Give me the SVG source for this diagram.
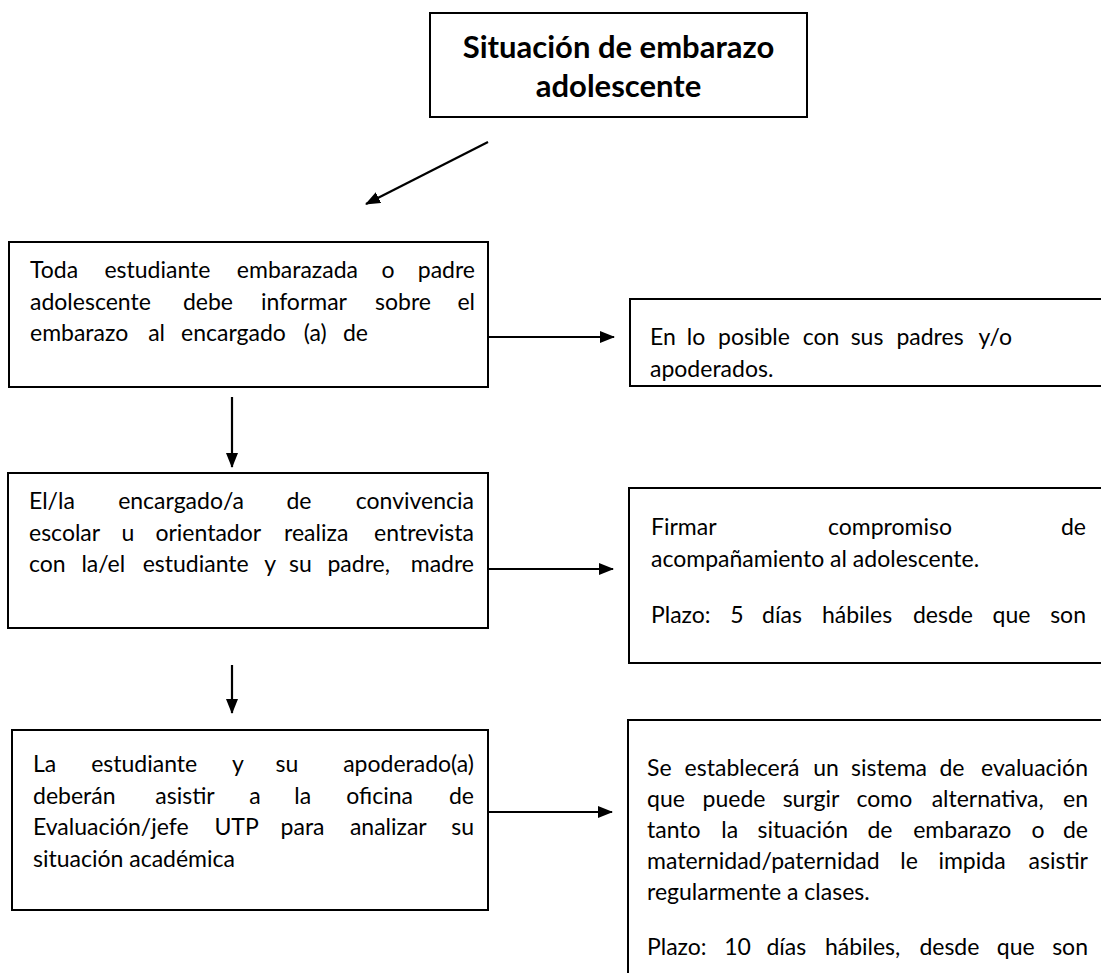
<svg xmlns="http://www.w3.org/2000/svg" width="1101" height="973" viewBox="0 0 1101 973">
<style>
.box{fill:#fff;stroke:#000;stroke-width:2}
text{font-family:Lato,"Liberation Sans",sans-serif;font-size:23px;fill:#000}
.b{font-weight:bold;font-size:31px}
.m{text-anchor:middle}
.e{text-anchor:end}
.c{stroke:#000;stroke-width:2.2;fill:none}
</style>
<defs>
<marker id="ah" markerUnits="userSpaceOnUse" markerWidth="16" markerHeight="12" refX="14" refY="6" orient="auto">
<path d="M0,0 L15,6 L0,12 z" fill="#000"/>
</marker>
</defs>
<rect width="1101" height="973" fill="#fff"/>

<g id="connectors">
<line class="c" x1="488" y1="142" x2="366" y2="204" marker-end="url(#ah)"/>
<line class="c" x1="488" y1="337" x2="614" y2="337" marker-end="url(#ah)"/>
<line class="c" x1="232" y1="397" x2="232" y2="467" marker-end="url(#ah)"/>
<line class="c" x1="488" y1="569" x2="613" y2="569" marker-end="url(#ah)"/>
<line class="c" x1="232" y1="665" x2="232" y2="713" marker-end="url(#ah)"/>
<line class="c" x1="488" y1="812" x2="612" y2="812" marker-end="url(#ah)"/>
</g>

<g id="n1">
<rect class="box" x="430" y="13" width="377" height="104"/>
<text class="b m" x="618.5" y="58">Situación de embarazo</text>
<text class="b m" x="618.5" y="97">adolescente</text>
</g>

<g id="n2">
<rect class="box" x="9" y="242" width="479" height="145"/>
<text x="30" y="278">Toda</text><text class="m" x="157.4" y="278">estudiante</text><text class="m" x="297.4" y="278">embarazada</text><text class="m" x="388" y="278">o</text><text class="e" x="475" y="278">padre</text>
<text x="30" y="310">adolescente</text><text class="m" x="208" y="310">debe</text><text class="m" x="304" y="310">informar</text><text class="m" x="403" y="310">sobre</text><text class="e" x="475" y="310">el</text>
<text x="30" y="341">embarazo</text><text class="m" x="156.6" y="341">al</text><text class="m" x="233.5" y="341">encargado</text><text class="m" x="315.3" y="341">(a)</text><text class="e" x="368" y="341">de</text>
</g>

<g id="n3">
<rect class="box" x="630" y="299" width="490" height="87"/>
<text x="650" y="345">En</text><text class="m" x="696" y="345">lo</text><text class="m" x="754" y="345">posible</text><text class="m" x="821" y="345">con</text><text class="m" x="867" y="345">sus</text><text class="m" x="930" y="345">padres</text><text class="e" x="1012" y="345">y/o</text>
<text x="650" y="377">apoderados.</text>
</g>

<g id="n4">
<rect class="box" x="8" y="473" width="480" height="155"/>
<text x="29" y="509">El/la</text><text class="m" x="181" y="509">encargado/a</text><text class="m" x="299" y="509">de</text><text class="e" x="474" y="509">convivencia</text>
<text x="29" y="541">escolar</text><text class="m" x="128" y="541">u</text><text class="m" x="208.3" y="541">orientador</text><text class="m" x="316.2" y="541">realiza</text><text class="e" x="474" y="541">entrevista</text>
<text x="29" y="572">con</text><text class="m" x="103.3" y="572">la/el</text><text class="m" x="195.7" y="572">estudiante</text><text class="m" x="270.3" y="572">y</text><text class="m" x="300.4" y="572">su</text><text class="m" x="358.7" y="572">padre,</text><text class="e" x="474" y="572">madre</text>
</g>

<g id="n5">
<rect class="box" x="629" y="488" width="490" height="175"/>
<text x="651" y="535">Firmar</text><text class="m" x="890" y="535">compromiso</text><text class="e" x="1086" y="535">de</text>
<text x="651" y="567">acompañamiento al adolescente.</text>
<text x="651" y="623">Plazo:</text><text class="m" x="737" y="623">5</text><text class="m" x="782" y="623">días</text><text class="m" x="857" y="623">hábiles</text><text class="m" x="943" y="623">desde</text><text class="m" x="1011.5" y="623">que</text><text class="e" x="1086" y="623">son</text>
</g>

<g id="n6">
<rect class="box" x="12" y="730" width="476" height="180"/>
<text x="33" y="772">La</text><text class="m" x="144.2" y="772">estudiante</text><text class="m" x="238" y="772">y</text><text class="m" x="287" y="772">su</text><text class="e" x="474" y="772">apoderado(a)</text>
<text x="33" y="804">deberán</text><text class="m" x="185" y="804">asistir</text><text class="m" x="255" y="804">a</text><text class="m" x="302.8" y="804">la</text><text class="m" x="379.7" y="804">oficina</text><text class="e" x="474" y="804">de</text>
<text x="33" y="835">Evaluación/jefe</text><text class="m" x="236.6" y="835">UTP</text><text class="m" x="302.6" y="835">para</text><text class="m" x="388.3" y="835">analizar</text><text class="e" x="474" y="835">su</text>
<text x="33" y="867">situación académica</text>
</g>

<g id="n7">
<rect class="box" x="628" y="720" width="490" height="270"/>
<text x="647" y="776">Se</text><text class="m" x="742" y="776">establecerá</text><text class="m" x="826" y="776">un</text><text class="m" x="889" y="776">sistema</text><text class="m" x="952" y="776">de</text><text class="e" x="1088" y="776">evaluación</text>
<text x="647" y="807">que</text><text class="m" x="734" y="807">puede</text><text class="m" x="811" y="807">surgir</text><text class="m" x="884.3" y="807">como</text><text class="m" x="987.7" y="807">alternativa,</text><text class="e" x="1088" y="807">en</text>
<text x="647" y="838">tanto</text><text class="m" x="729.7" y="838">la</text><text class="m" x="802.8" y="838">situación</text><text class="m" x="880" y="838">de</text><text class="m" x="962.3" y="838">embarazo</text><text class="m" x="1038" y="838">o</text><text class="e" x="1088" y="838">de</text>
<text x="647" y="869">maternidad/paternidad</text><text class="m" x="909" y="869">le</text><text class="m" x="972" y="869">impida</text><text class="e" x="1088" y="869">asistir</text>
<text x="647" y="900">regularmente a clases.</text>
<text x="647" y="955">Plazo:</text><text class="m" x="737.5" y="955">10</text><text class="m" x="786.3" y="955">días</text><text class="m" x="862.6" y="955">hábiles,</text><text class="m" x="949.4" y="955">desde</text><text class="m" x="1015.7" y="955">que</text><text class="e" x="1088" y="955">son</text>
</g>
</svg>
